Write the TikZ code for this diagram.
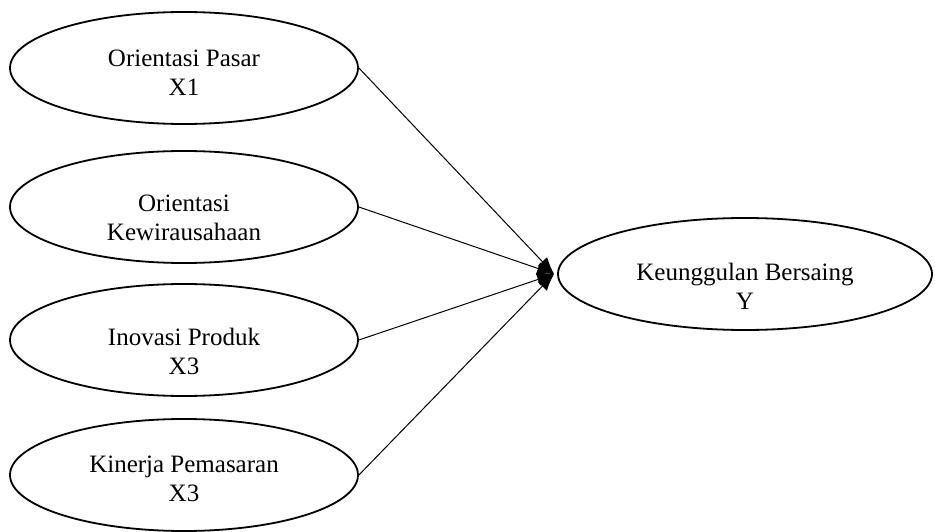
\documentclass[tikz,border=0pt]{standalone}
\usepackage{fontspec}
\setmainfont{Liberation Serif}
\usetikzlibrary{shapes.geometric,arrows.meta,calc}
\newcommand\mylbl[3]{\raisebox{#1}[0pt][0pt]{\begin{tabular}{@{}c@{}}#2\\#3\end{tabular}}}
\tikzset{
  var/.style={draw, line width=1.8pt, ellipse, inner sep=0pt,
    minimum width=348pt, minimum height=112pt,
    font=\fontsize{25}{29}\selectfont},
  link/.style={line width=1pt, -{Latex[length=17pt,width=13pt]}}
}
\begin{document}
\begin{tikzpicture}[x=1pt,y=-1pt]
\useasboundingbox (0,0) rectangle (935,532);
\node[var] (x1) at (184,68) {\mylbl{-13pt}{Orientasi Pasar}{X1}};
\node[var] (x2) at (184,207) {\mylbl{-19pt}{Orientasi}{Kewirausahaan}};
\node[var] (x3) at (184,340) {\mylbl{-20pt}{Inovasi Produk}{X3}};
\node[var] (x4) at (184,475) {\mylbl{-12pt}{Kinerja Pemasaran}{X3}};
\node[var, minimum width=374pt] (y) at (745,274) {\mylbl{-21pt}{Keunggulan Bersaing}{Y}};
\coordinate (tip) at ($(y.west)+(-3,0)$);
\draw[link] (x1.east) -- (tip);
\draw[link] (x2.east) -- (tip);
\draw[link] (x3.east) -- (tip);
\draw[link] (x4.east) -- (tip);
\end{tikzpicture}
\end{document}
